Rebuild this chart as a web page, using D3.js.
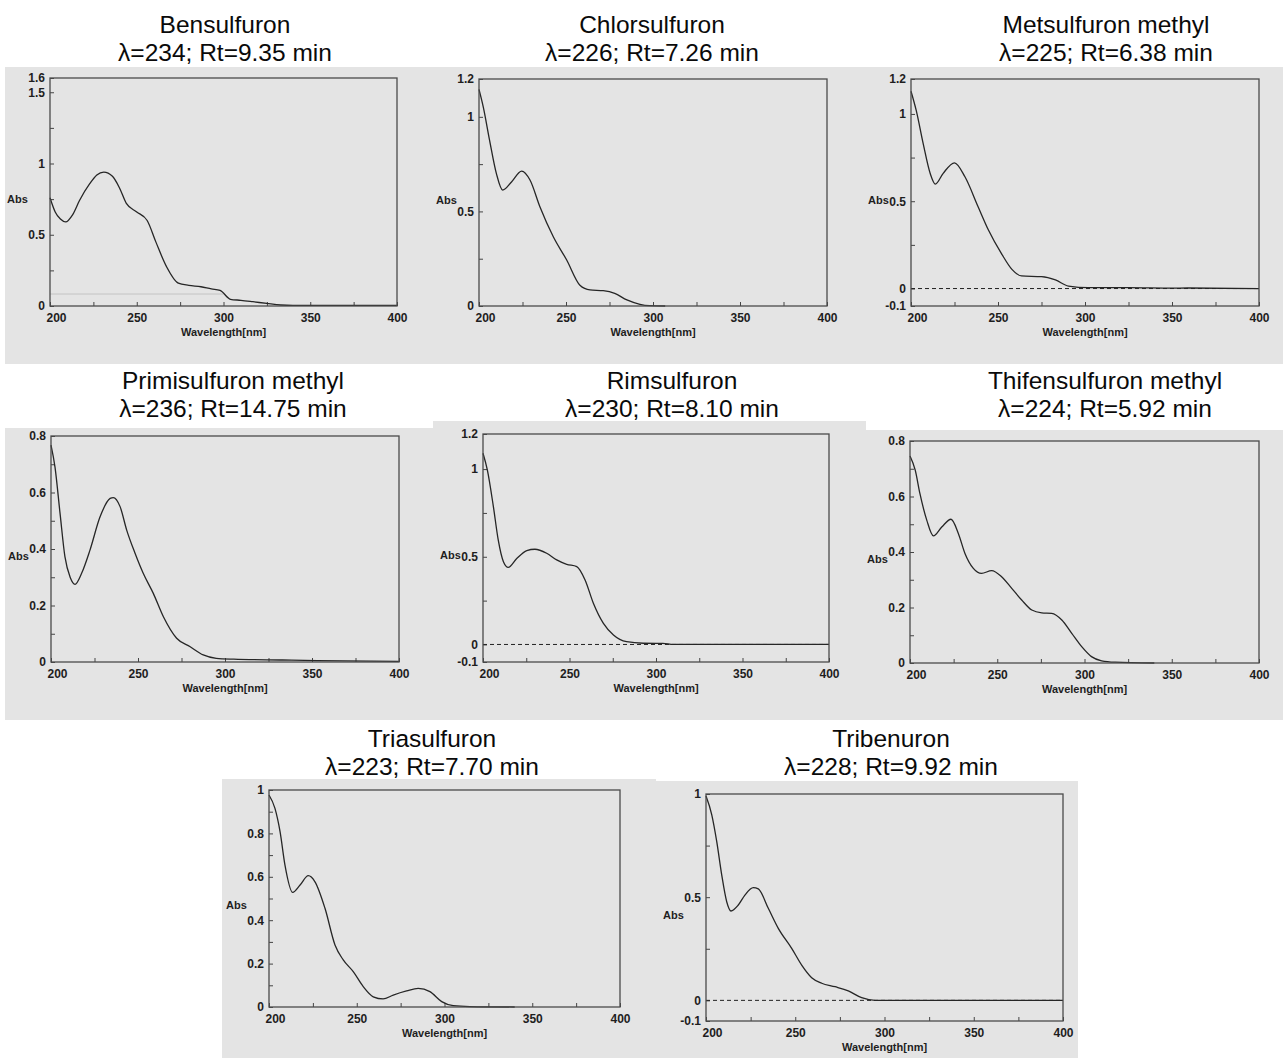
<!DOCTYPE html>
<html>
<head>
<meta charset="utf-8">
<script src="https://cdn.jsdelivr.net/npm/d3@7"></script>
<style>
  body { margin: 0; background: #fff; }
  svg { display: block; }
  .tick text { font-family: "Liberation Sans", Arial, sans-serif; font-size: 12px; font-weight: bold; fill: #1e1e1e; }
  .title { font-family: "Liberation Sans", Arial, sans-serif; font-size: 24.5px; fill: #0a0a0a; }
  .axlabel { font-family: "Liberation Sans", Arial, sans-serif; font-size: 11px; font-weight: bold; fill: #1e1e1e; }
</style>
</head>
<body>
<div id="chart"></div>
<script>
const titles = ["Bensulfuron", "Chlorsulfuron", "Metsulfuron methyl", "Primisulfuron methyl",
    "Rimsulfuron", "Thifensulfuron methyl", "Triasulfuron", "Tribenuron"];
const lambdaMax = [234, 226, 225, 236, 230, 224, 223, 228];
const retention = ["9.35", "7.26", "6.38", "14.75", "8.10", "5.92", "7.70", "9.92"];

const xTickLabels = [200, 250, 300, 350, 400];
const xMinorTicks = [225, 275, 325, 375];

const yDomains = [[0, 1.6], [0, 1.2], [-0.1, 1.2], [0, 0.8], [-0.1, 1.2], [0, 0.8], [0, 1], [-0.1, 1]];
const yTickLabels = [
    [0, 0.5, 1, 1.5, 1.6], [0, 0.5, 1, 1.2], [-0.1, 0, 0.5, 1, 1.2], [0, 0.2, 0.4, 0.6, 0.8],
    [-0.1, 0, 0.5, 1, 1.2], [0, 0.2, 0.4, 0.6, 0.8], [0, 0.2, 0.4, 0.6, 0.8, 1], [-0.1, 0, 0.5, 1]
];
const yMinorTicks = [
    [0.25, 0.75, 1.25], [0.25, 0.75], [0.25, 0.75], [0.1, 0.3, 0.5, 0.7],
    [0.25, 0.75], [0.1, 0.3, 0.5, 0.7], [0.1, 0.3, 0.5, 0.7, 0.9], [0.25, 0.75]
];
// panels with a dashed zero baseline
const zeroLine = [false, false, true, false, true, false, false, true];

// spectra (wavelength nm / absorbance)
const bensulfuronNm = [200, 203, 206, 209, 213, 217, 223, 227, 231, 236, 240, 244, 250, 256, 261, 267, 274, 280, 287, 293, 298, 304, 310, 317, 325, 333, 340, 360, 380, 400];
const bensulfuronAbs = [0.76, 0.66, 0.61, 0.59, 0.64, 0.74, 0.86, 0.92, 0.94, 0.91, 0.83, 0.72, 0.66, 0.60, 0.45, 0.28, 0.16, 0.145, 0.135, 0.12, 0.11, 0.047, 0.04, 0.03, 0.018, 0.007, 0.004, 0.004, 0.004, 0.004];
// faint trace under the Bensulfuron spectrum
const bensulfuronFaintNm = [200, 300];
const bensulfuronFaintAbs = [0.084, 0.084];
const chlorsulfuronNm = [200, 202.5, 206, 210, 213.6, 218.8, 224.5, 229.3, 235, 242.7, 250.4, 258, 263.8, 271.4, 278, 285, 292.5, 298, 307];
const chlorsulfuronAbs = [1.145, 1.05, 0.88, 0.70, 0.613, 0.657, 0.713, 0.666, 0.525, 0.366, 0.243, 0.11, 0.085, 0.081, 0.067, 0.032, 0.009, 0.002, 0];
const metsulfuronNm = [200, 203, 207, 211, 214, 218.5, 225, 231, 238.5, 244.5, 252, 258, 263.5, 275, 283, 290.5, 302, 325, 350, 359, 400];
const metsulfuronAbs = [1.13, 1.02, 0.83, 0.66, 0.598, 0.66, 0.72, 0.64, 0.47, 0.335, 0.20, 0.11, 0.072, 0.068, 0.049, 0.014, 0.005, 0.005, 0.002, 0.003, 0];
const primisulfuronNm = [200, 202.3, 205.2, 208, 211, 213.8, 217.6, 222.4, 228.2, 234, 235.8, 239.7, 243.5, 248.3, 253, 258.8, 264.6, 272.2, 280, 287.5, 295, 305, 333, 353, 400];
const primisulfuronAbs = [0.768, 0.69, 0.526, 0.373, 0.30, 0.275, 0.314, 0.396, 0.514, 0.579, 0.582, 0.55, 0.467, 0.385, 0.314, 0.243, 0.16, 0.084, 0.054, 0.025, 0.013, 0.01, 0.007, 0.005, 0.002];
const rimsulfuronNm = [200, 202.5, 206, 208.8, 211.8, 214.6, 219.5, 225.3, 230, 236.8, 242.6, 248.4, 254.2, 259, 263.8, 269.6, 275.4, 283, 292.7, 304, 310, 400];
const rimsulfuronAbs = [1.09, 0.995, 0.786, 0.596, 0.472, 0.44, 0.49, 0.535, 0.543, 0.52, 0.482, 0.457, 0.444, 0.368, 0.235, 0.12, 0.054, 0.016, 0.007, 0.006, 0, 0];
const thifensulfuronNm = [200, 203, 205.7, 209.6, 213.4, 218.2, 223.5, 227.7, 231.5, 236.3, 241, 246.8, 252.5, 258.3, 264, 269.8, 275.5, 281.2, 287, 292.7, 298.4, 304, 309.8, 317.5, 340];
const thifensulfuronAbs = [0.746, 0.695, 0.61, 0.515, 0.458, 0.49, 0.518, 0.467, 0.395, 0.341, 0.323, 0.333, 0.311, 0.269, 0.227, 0.191, 0.181, 0.179, 0.155, 0.107, 0.059, 0.023, 0.008, 0.003, 0];
const triasulfuronNm = [200, 203.4, 206.3, 209.1, 213.5, 217.7, 222.4, 226.2, 231.9, 237.6, 242.3, 248, 253.7, 259.4, 265, 270.8, 278.4, 285, 291.7, 298.4, 305, 314.5, 340];
const triasulfuronAbs = [0.977, 0.915, 0.808, 0.654, 0.528, 0.562, 0.605, 0.577, 0.455, 0.286, 0.217, 0.163, 0.094, 0.047, 0.037, 0.055, 0.074, 0.086, 0.071, 0.025, 0.006, 0.002, 0];
const tribenuronNm = [200, 203.2, 206, 208.8, 211.6, 214, 218.1, 221.8, 226.5, 229.3, 234.9, 240.5, 248, 253.6, 259.2, 264.8, 272.3, 279.7, 287.2, 294.7, 300, 400];
const tribenuronAbs = [0.99, 0.90, 0.77, 0.608, 0.478, 0.433, 0.462, 0.51, 0.546, 0.54, 0.446, 0.349, 0.252, 0.171, 0.11, 0.083, 0.066, 0.046, 0.013, 0, 0, 0];

const spectraNm = [bensulfuronNm, chlorsulfuronNm, metsulfuronNm, primisulfuronNm, rimsulfuronNm, thifensulfuronNm, triasulfuronNm, tribenuronNm];
const spectraAbs = [bensulfuronAbs, chlorsulfuronAbs, metsulfuronAbs, primisulfuronAbs, rimsulfuronAbs, thifensulfuronAbs, triasulfuronAbs, tribenuronAbs];

// layout: grey image backgrounds, plot frames, title positions
const backgrounds = [
    [5, 67, 425, 297], [430, 67, 428, 297], [858, 67, 425, 297],
    [5, 428, 428, 292], [433, 421, 433, 299], [862, 430, 421, 290],
    [222, 779, 434, 279], [656, 781, 422, 277]
];
const frames = [
    [50, 397, 78, 306], [479, 827, 79, 306], [911, 1259, 79, 306],
    [51, 399, 436, 662], [483, 829, 434, 662], [910, 1259, 441, 663],
    [269, 620, 790, 1007], [706, 1063, 794, 1021]
];
const titleX = [225, 652, 1106, 233, 672, 1105, 432, 891];
const titleY = [33, 33, 33, 389, 389, 389, 747, 747];

const W = 1283, H = 1058;
const svg = d3.select("#chart").append("svg")
    .attr("width", W)
    .attr("height", H);

svg.selectAll("rect.bg")
    .data(backgrounds)
    .join("rect")
    .attr("class", "bg")
    .attr("x", d => d[0])
    .attr("y", d => d[1])
    .attr("width", d => d[2])
    .attr("height", d => d[3])
    .attr("fill", "#e4e4e4");

titles.forEach((name, i) => {
    const [x0, x1, y0, y1] = frames[i];
    const x = d3.scaleLinear().domain([200, 400]).range([x0, x1]);
    const y = d3.scaleLinear().domain(yDomains[i]).range([y1, y0]);

    // titles
    svg.append("text").attr("class", "title")
        .attr("x", titleX[i]).attr("y", titleY[i])
        .attr("text-anchor", "middle")
        .text(name);
    svg.append("text").attr("class", "title")
        .attr("x", titleX[i]).attr("y", titleY[i] + 28)
        .attr("text-anchor", "middle")
        .text(`λ=${lambdaMax[i]}; Rt=${retention[i]} min`);

    // X axis (inner ticks)
    const gx = svg.append("g")
        .attr("transform", `translate(0,${y1})`)
        .call(d3.axisBottom(x)
            .tickValues(xTickLabels.concat(xMinorTicks))
            .tickSize(-4)
            .tickPadding(7)
            .tickFormat(d => xTickLabels.includes(d) ? d : ""));
    gx.select(".domain").remove();
    gx.selectAll(".tick line").attr("stroke", "#444");
    gx.selectAll(".tick text").filter(d => d === 200).attr("dx", 6);

    // Y axis
    const yl = yTickLabels[i];
    const gy = svg.append("g")
        .attr("transform", `translate(${x0},0)`)
        .call(d3.axisLeft(y)
            .tickValues(yl.concat(yMinorTicks[i]))
            .tickSize(-4)
            .tickPadding(5)
            .tickFormat(d => yl.includes(d) ? String(d) : ""));
    gy.select(".domain").remove();
    gy.selectAll(".tick line").attr("stroke", "#444");

    // dashed zero line
    if (zeroLine[i]) {
        svg.append("line")
            .attr("x1", x0).attr("x2", x1)
            .attr("y1", y(0)).attr("y2", y(0))
            .attr("stroke", "#222")
            .attr("stroke-width", 1)
            .attr("stroke-dasharray", "4,3");
    }

    if (i === 0) {
        svg.append("path")
            .datum(bensulfuronFaintNm.map((nm, k) => [nm, bensulfuronFaintAbs[k]]))
            .attr("fill", "none")
            .attr("stroke", "#c4c4c4")
            .attr("stroke-width", 1)
            .attr("d", d3.line().x(d => x(d[0])).y(d => y(d[1])));
    }

    // spectrum
    const pts = spectraNm[i].map((nm, k) => [nm, spectraAbs[i][k]]);
    svg.append("path")
        .datum(pts)
        .attr("fill", "none")
        .attr("stroke", "#262626")
        .attr("stroke-width", 1.3)
        .attr("d", d3.line()
            .x(d => x(d[0]))
            .y(d => y(d[1]))
            .curve(d3.curveMonotoneX));

    // frame
    svg.append("rect")
        .attr("x", x0).attr("y", y0)
        .attr("width", x1 - x0).attr("height", y1 - y0)
        .attr("fill", "none")
        .attr("stroke", "#4a4a4a")
        .attr("stroke-width", 1.3);

    // axis labels
    svg.append("text").attr("class", "axlabel")
        .attr("x", (x0 + x1) / 2).attr("y", y1 + 30)
        .attr("text-anchor", "middle")
        .text("Wavelength[nm]");
    svg.append("text").attr("class", "axlabel")
        .attr("x", x0 - 43).attr("y", y0 + 0.55 * (y1 - y0))
        .text("Abs");
});
</script>
</body>
</html>
